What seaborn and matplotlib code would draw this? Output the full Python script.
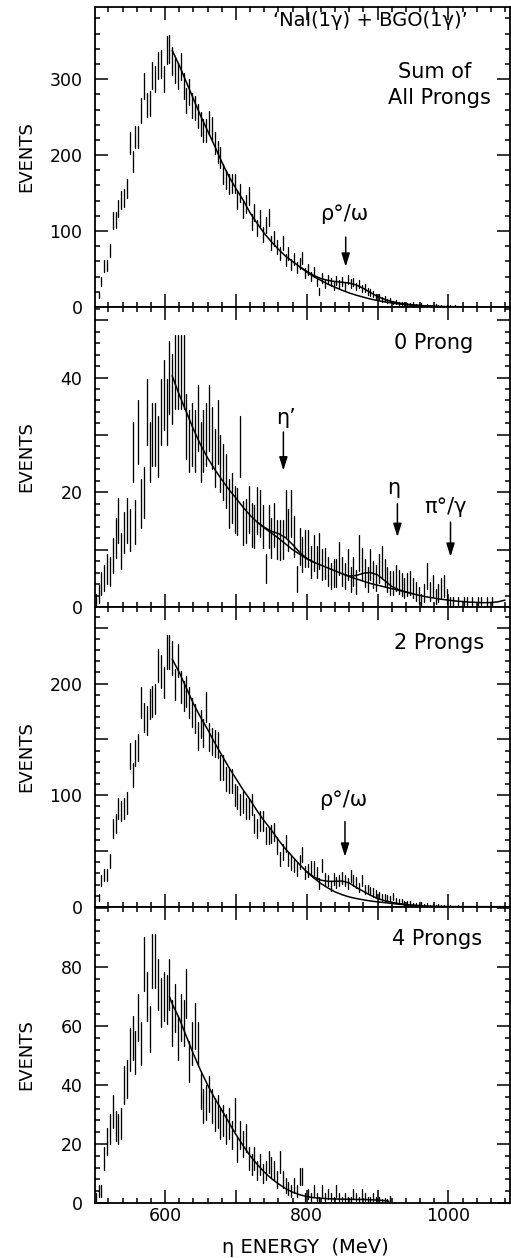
import numpy as np
import pandas as pd
import matplotlib
matplotlib.use("Agg")
import matplotlib.pyplot as plt
from matplotlib.ticker import MultipleLocator, FuncFormatter
import seaborn as sns

# ---------------------------------------------------------------------------
# Histogram contents (events per 4 MeV bin); each list starts at its own bin
# ---------------------------------------------------------------------------
BIN_WIDTH = 4

sum_start = 506
sum_counts = [
    16, 34, 54, 55, 74, 114, 115, 130, 141, 143, 156, 216, 191, 224, 224, 259,
    291, 266, 268, 305, 300, 318, 320, 300, 339, 340, 324, 312, 304, 317, 291,
    272, 283, 265, 262, 252, 241, 232, 232, 242, 235, 216, 204, 197, 175, 168,
    162, 163, 163, 141,
    150, 128, 136, 146, 112, 124, 104, 117, 95, 108, 118, 84, 90, 79, 70, 84,
    62, 70, 56, 63, 52, 57, 64, 45, 49, 40, 46, 34, 20, 38, 30, 36, 33, 28, 35,
    30, 34, 28, 36, 31, 33, 27, 30, 24, 25, 21, 19, 17, 14, 13, 10, 11, 8, 9, 6,
    7, 5, 5, 4, 3.5, 3, 4, 2.5, 2, 3, 1.5, 2, 1.5, 1, 2, 1, 1.5, 0.8, 1, 1.5,
    0.8, 1, 0.6, 0.8, 0.5, 0.6, 0.4, 0.5, 0.3, 0.4,
]

prong0_start = 502
prong0_counts = [
    1.2, 2.3, 4.1, 5, 6.6, 6.2, 9, 12.1, 15.1, 9.8, 13, 15.1, 13.4, 27, 14.8,
    30.5, 18, 20, 34, 27, 30, 30, 28, 34, 37, 34, 40, 38, 41, 41, 41, 41, 31.5,
    29, 30, 29, 33, 27, 29, 30, 33, 29.5, 26, 30.5, 25, 23.5, 22, 18, 19, 17,
    16.6, 28, 14.6, 15, 17, 14.3, 14, 16.8, 16.3, 14, 6.7, 14, 12, 14.3, 11.8,
    11.7, 11.8, 16.3, 13.4, 16.3, 12.3, 4.9, 10.5, 9.1, 10.2, 10.2, 7.9, 9.4,
    7.9, 9.7, 7.4, 7.6, 6.2, 5.4, 5.9, 5.9, 8.5, 6.2, 5.4, 7.4, 4.8, 6.2, 4.4,
    9.4, 7.6, 5.9, 4.8, 7.4, 5.6, 5.0, 6.7, 7.9, 5.9, 4.8, 4.2, 4.2, 5.0, 4.4,
    3.9, 3.3, 3.9, 4.2, 3.3, 2.7, 2.1, 1.2, 2.4, 5.4, 2.7, 3.6, 1.8, 2.4, 3.3,
    3.6, 1.8, 0.8, 0.8, 0, 0.8, 0, 0.8, 0.8, 0, 0.8, 0, 0.8, 0.8, 0, 0.8, 0,
    0.8,
]

prong2_start = 506
prong2_counts = [
    8.4, 24, 29, 29, 41, 70, 75, 88, 86, 88, 93, 135, 118, 138, 143, 183, 170,
    167, 182, 184, 186, 216, 211, 201, 228, 228, 223, 199, 221, 197, 189, 193,
    183, 174, 169, 153, 164, 156, 179, 152, 148, 146, 145, 125, 125, 115, 113,
    113, 100, 98, 92, 94, 88, 88, 92, 75, 70, 77, 77, 64, 64, 65, 67, 55, 43,
    49, 57, 43, 39, 37, 34, 40, 47, 31, 33, 35, 35, 30, 21, 37, 25, 24, 19, 25,
    22, 24, 26, 24, 21, 28, 24, 22, 17.5, 24, 16, 16, 14.5, 13, 11.6, 10, 8.6,
    8.6, 8, 7, 9.5, 5.6, 5, 4.7, 3.5, 3.2, 3.8, 2.4, 2, 1.5, 2.5, 1.2, 1.8, 1,
    1.5, 0.8, 1.2, 0.6, 1, 0.5, 0.8, 0.5, 0.4, 0.6, 0.4, 0.5, 0.3, 0.4, 0.3,
]

prong4_start = 502
prong4_counts = [
    2, 4, 4, 15, 21, 25, 31, 26, 25, 27, 40, 42, 52, 56, 51, 63, 54, 81, 70, 59,
    82, 82, 74, 68, 70, 69, 74, 61, 66, 56, 63, 61, 71, 48, 54, 60, 54, 38, 33,
    34, 37, 33, 30, 31, 27, 28, 25, 27, 23, 30, 18, 23, 20, 22, 15, 13, 15, 11,
    13, 10, 11, 14, 12, 11, 8, 14, 8, 6, 5, 4, 6, 4, 9, 9, 2, 3, 2, 4, 2, 1, 4,
    2, 3, 2, 1, 4, 2, 1, 2, 1, 1, 3, 2, 1, 3, 2, 1, 1, 2, 1, 1, 0.5, 0.8, 0.5,
    1.2,
]

# ---------------------------------------------------------------------------
# Fitted curves: background and background + resonance contributions
# ---------------------------------------------------------------------------
fit_E = list(range(610, 1081, 10))

sum_bg = [338, 318, 296, 274, 252, 232, 212, 191, 172, 156, 141, 124, 110, 97,
          86, 76, 67, 60, 53, 46, 40, 35, 30, 26, 22, 18.5, 15.5, 13, 10.5, 8.5,
          6.8, 5.3, 4.1, 3.1, 2.4, 1.8, 1.3, 1.0, 0.7, 0.5, 0.4, 0.3, 0.25, 0.2,
          0.2, 0.2, 0.2, 0.2]
sum_peak_E = list(range(790, 981, 10))
sum_peak = [53, 47, 41.5, 37.5, 35, 33.5, 32.5, 31.5, 29, 24.5, 19, 14, 10,
            7.2, 5.2, 3.8, 2.8, 2.0, 1.4, 1.0]

prong0_bg = [40.3, 37.0, 34.0, 31.0, 28.3, 26.0, 24.0, 22.2, 20.5, 19.0, 17.4,
             16.0, 14.8, 13.8, 12.9, 12.0, 11.0, 10.0, 9.2, 8.4, 7.8, 7.3, 6.8,
             6.3, 5.8, 5.3, 4.9, 4.5, 4.1, 3.8, 3.5, 3.2, 2.9, 2.6, 2.3, 2.0,
             1.75, 1.55, 1.35, 1.2, 1.05, 0.95, 0.85, 0.8, 0.75, 0.78, 0.9, 1.2]
prong0_etap_E = list(range(730, 811, 10))
prong0_etap = [14.8, 13.9, 13.2, 12.8, 12.1, 10.9, 9.5, 8.5, 7.8]
prong0_eta_E = list(range(850, 951, 10))
prong0_eta = [5.8, 5.4, 5.5, 5.9, 6.0, 5.6, 4.6, 3.6, 3.0, 2.65, 2.3]

prong2_bg = [222, 210, 196, 182, 170, 159, 147, 136, 125, 115, 105, 96, 86, 77,
             69, 60, 52, 45, 38, 31.5, 26, 21, 17, 13.5, 11, 9, 7.6, 6.4, 5.4,
             4.6, 3.9, 3.2, 2.5, 1.9, 1.5, 1.1, 0.8, 0.6, 0.45, 0.4, 0.35, 0.3,
             0.3, 0.3, 0.3, 0.3, 0.3, 0.3]
prong2_peak_E = list(range(800, 961, 10))
prong2_peak = [31.5, 27, 24, 23, 23, 23.3, 21.5, 17.5, 14, 10.5, 7.6, 5.6, 4.2,
               3.0, 2.2, 1.6, 1.1]

prong4_fit_E = [606, 610, 620, 630, 640, 650, 660, 670, 680, 690, 700, 710, 720,
                730, 740, 750, 760, 770, 780, 790, 800, 810, 820, 830, 840, 850,
                860, 870, 880, 890, 900, 910, 916]
prong4_fit = [70, 67.5, 62.5, 56.5, 50.5, 45, 40, 35.5, 31.5, 27.3, 23.2, 19.5,
              16, 13.1, 10.5, 8.3, 6.5, 4.9, 3.7, 2.8, 2.2, 1.8, 1.6, 1.45, 1.35,
              1.3, 1.25, 1.2, 1.2, 1.1, 1.0, 0.8, 0.6]

# ---------------------------------------------------------------------------
sns.set_style("ticks")
INK = "black"
plt.rcParams.update({
    "font.family": ["DejaVu Sans"],
    "axes.linewidth": 1.3,
    "text.color": INK,
    "axes.labelcolor": INK,
    "axes.edgecolor": INK,
    "xtick.color": INK,
    "ytick.color": INK,
})


def bin_centres(start, counts):
    return start + BIN_WIDTH * np.arange(len(counts))


def draw_errorbars(ax, start, counts):
    """Vertical +-sqrt(N) bars, one line per bin, no markers."""
    n = np.asarray(counts, dtype=float)
    err = np.sqrt(n)
    e = bin_centres(start, counts)
    df = pd.DataFrame({
        "E": np.repeat(e, 2),
        "N": np.column_stack([n - err, n + err]).ravel(),
        "bin": np.repeat(np.arange(len(n)), 2),
    })
    sns.lineplot(data=df, x="E", y="N", units="bin", estimator=None,
                 color=INK, linewidth=0.95, ax=ax, legend=False)


def draw_curve(ax, e, v):
    sns.lineplot(x=e, y=v, estimator=None, color=INK, linewidth=1.1, ax=ax,
                 legend=False)


def arrow(ax, x, y_from, y_to):
    ax.annotate("", xy=(x, y_to), xytext=(x, y_from),
                arrowprops=dict(arrowstyle="-|>,head_length=0.8,head_width=0.25",
                                mutation_scale=10, color=INK, lw=1.1,
                                shrinkA=0, shrinkB=0))


fig = plt.figure(figsize=(5.11, 12.58), dpi=100)
gs = fig.add_gridspec(4, 1, left=95 / 511, right=510 / 511,
                      top=1 - 7 / 1258, bottom=1 - 1203 / 1258,
                      hspace=0, height_ratios=[300, 300, 300, 296])
axes = [fig.add_subplot(gs[i]) for i in range(4)]

panels = [
    dict(start=sum_start, counts=sum_counts, ymax=395, major=100, minor=20,
         label_every=100, label_max=300,
         curves=[(fit_E, sum_bg), (sum_peak_E, sum_peak)]),
    dict(start=prong0_start, counts=prong0_counts, ymax=52.3, major=10, minor=2,
         label_every=20, label_max=40,
         curves=[(fit_E, prong0_bg), (prong0_etap_E, prong0_etap),
                 (prong0_eta_E, prong0_eta)]),
    dict(start=prong2_start, counts=prong2_counts, ymax=268.6, major=50,
         minor=10, label_every=100, label_max=200,
         curves=[(fit_E, prong2_bg), (prong2_peak_E, prong2_peak)]),
    dict(start=prong4_start, counts=prong4_counts, ymax=100.3, major=20,
         minor=4, label_every=20, label_max=80,
         curves=[(prong4_fit_E, prong4_fit)]),
]


def y_formatter(step, top):
    def fmt(v, pos):
        on_step = abs(v / step - round(v / step)) < 1e-6
        return f"{v:.0f}" if on_step and v <= top + 1e-6 else ""
    return FuncFormatter(fmt)


for i, (ax, p) in enumerate(zip(axes, panels)):
    draw_errorbars(ax, p["start"], p["counts"])
    for e, v in p["curves"]:
        draw_curve(ax, e, v)

    ax.set_xlim(501, 1087)
    ax.set_ylim(0, p["ymax"])

    ax.xaxis.set_major_locator(MultipleLocator(100))
    ax.xaxis.set_minor_locator(MultipleLocator(20))
    ax.yaxis.set_major_locator(MultipleLocator(p["major"]))
    ax.yaxis.set_minor_locator(MultipleLocator(p["minor"]))
    ax.yaxis.set_major_formatter(y_formatter(p["label_every"], p["label_max"]))
    ax.xaxis.set_major_formatter(FuncFormatter(
        lambda v, pos: f"{v:.0f}" if abs(v / 200 - round(v / 200)) < 1e-6 else ""))

    ax.tick_params(which="both", direction="in", top=True, right=True,
                   width=1.1, colors=INK, labelsize=12.5)
    ax.tick_params(which="major", length=9.5)
    ax.tick_params(which="minor", length=3.8)
    ax.tick_params(axis="y", pad=9)
    ax.tick_params(axis="x", pad=3)
    if i < 3:
        ax.tick_params(axis="x", labelbottom=False)

    for s in ax.spines.values():
        s.set_visible(True)
        s.set_color(INK)

    ax.set_ylabel("EVENTS", fontsize=13, va="center")
    ax.yaxis.set_label_coords(-0.166, 0.5)
    ax.set_xlabel("")

axes[3].set_xlabel("η ENERGY  (MeV)", fontsize=14, va="center")
axes[3].xaxis.set_label_coords(0.506, -0.149)

TXT = 15

# panel captions
axes[0].text(0.663, 0.955, "‘NaI(1γ) + BGO(1γ)’", transform=axes[0].transAxes,
             ha="center", va="center", fontsize=14)
axes[0].text(0.819, 0.783, "Sum of", transform=axes[0].transAxes,
             ha="center", va="center", fontsize=TXT)
axes[0].text(0.831, 0.697, "All Prongs", transform=axes[0].transAxes,
             ha="center", va="center", fontsize=TXT)
axes[1].text(0.815, 0.88, "0 Prong", transform=axes[1].transAxes,
             ha="center", va="center", fontsize=TXT)
axes[2].text(0.829, 0.88, "2 Prongs", transform=axes[2].transAxes,
             ha="center", va="center", fontsize=TXT)
axes[3].text(0.824, 0.892, "4 Prongs", transform=axes[3].transAxes,
             ha="center", va="center", fontsize=TXT)

# resonance markers
axes[0].text(853, 122, "ρ°/ω", ha="center", va="center", fontsize=TXT)
arrow(axes[0], 855, 92, 53)

axes[1].text(770, 32.9, "η’", ha="center", va="center", fontsize=TXT)
arrow(axes[1], 767, 30.5, 23.8)
axes[1].text(923, 20.7, "η", ha="center", va="center", fontsize=TXT)
arrow(axes[1], 928, 18.0, 12.2)
axes[1].text(996, 17.4, "π°/γ", ha="center", va="center", fontsize=TXT)
arrow(axes[1], 1003, 14.8, 8.75)

axes[2].text(851, 95.8, "ρ°/ω", ha="center", va="center", fontsize=TXT)
arrow(axes[2], 854, 76.4, 45)

fig.savefig("out.png", dpi=100)
